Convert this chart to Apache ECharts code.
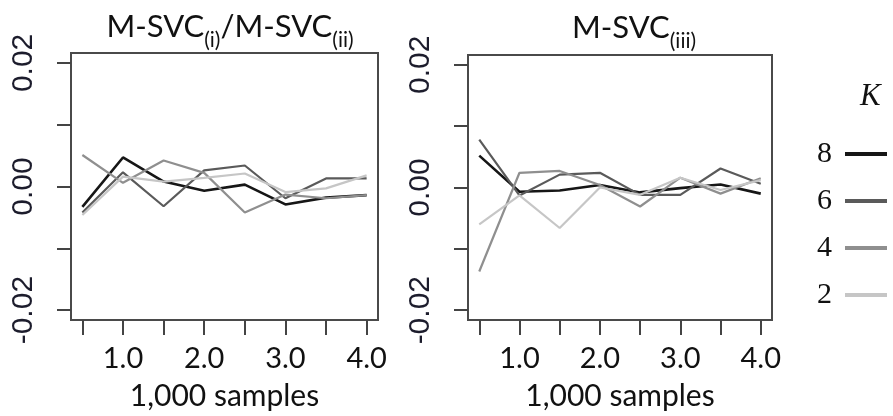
<!DOCTYPE html>
<html>
<head>
<meta charset="utf-8">
<script src="https://cdn.jsdelivr.net/npm/echarts@6/dist/echarts.min.js"></script>
<style>html,body{margin:0;padding:0;background:#fff}#c{width:893px;height:416px}</style>
</head>
<body>
<div id="c"></div>
<script>
// x positions (1,000 samples)
const xVals = [0.5, 1.0, 1.5, 2.0, 2.5, 3.0, 3.5, 4.0];
const xTicks = [0.5, 1.0, 1.5, 2.0, 2.5, 3.0, 3.5, 4.0];
const xLabels = [1.0, 2.0, 3.0, 4.0];
const yTicks = [-0.02, -0.01, 0, 0.01, 0.02];
const yLabels = [-0.02, 0, 0.02];
const kNames = ['8', '6', '4', '2'];

// Left panel: M-SVC(i)/M-SVC(ii)
const leftK8 = [-0.0033, 0.0047, 0.0008, -0.0007, 0.0003, -0.0029, -0.0018, -0.0014];
const leftK6 = [-0.0042, 0.0023, -0.0032, 0.0026, 0.0034, -0.0019, 0.0013, 0.0013];
const leftK4 = [0.0051, 0.0006, 0.0042, 0.0022, -0.0042, -0.0013, -0.0019, -0.0014];
const leftK2 = [-0.0046, 0.0016, 0.0008, 0.0014, 0.0021, -0.0009, -0.0003, 0.0018];

// Right panel: M-SVC(iii)
const rightK8 = [0.0052, -0.0007, -0.0005, 0.0004, -0.0008, -0.0001, 0.0005, -0.0010];
const rightK6 = [0.0078, -0.0013, 0.0021, 0.0024, -0.0012, -0.0012, 0.0031, 0.0006];
const rightK4 = [-0.0137, 0.0024, 0.0027, 0.0004, -0.0031, 0.0016, -0.0010, 0.0015];
const rightK2 = [-0.0060, -0.0013, -0.0066, 0.0000, -0.0012, 0.0016, -0.0004, 0.0012];

const colors = {'8': '#161616', '6': '#5a5a5a', '4': '#8f8f8f', '2': '#c6c6c6'};
const widths = {'8': 2.6, '6': 2.2, '4': 2.2, '2': 2.2};

const pair = arr => xVals.map((x, i) => [x, arr[i]]);
const font = 'Lato, "Open Sans", sans-serif';

function mkSeries(name, arr, idx) {
  return {
    name: name, type: 'line', xAxisIndex: idx, yAxisIndex: idx,
    data: pair(arr), symbol: 'none', animation: false,
    lineStyle: {color: colors[name], width: widths[name]},
    itemStyle: {color: colors[name]},
    z: 10 - Number(name) / 2
  };
}

function xAx(idx) {
  return {
    type: 'value', gridIndex: idx, min: 0.36, max: 4.14,
    splitLine: {show: false},
    axisLine: {show: false, onZero: false},
    axisTick: {show: true, inside: false, length: 15, customValues: xTicks,
      lineStyle: {color: '#444', width: 2}},
    axisLabel: {customValues: xLabels, formatter: v => v.toFixed(1),
      fontFamily: font, fontSize: 29, color: '#111', margin: 24},
    name: '1,000 samples', nameLocation: 'middle', nameGap: 61,
    nameTextStyle: {fontFamily: font, fontSize: 30, color: '#111'}
  };
}
function yAx(idx) {
  return {
    type: 'value', gridIndex: idx, min: -0.0216, max: 0.0216,
    splitLine: {show: false},
    axisLine: {show: false, onZero: false},
    axisTick: {show: true, inside: false, length: 14, customValues: yTicks,
      lineStyle: {color: '#444', width: 2}},
    axisLabel: {customValues: yLabels, formatter: v => v.toFixed(2), rotate: 90,
      fontFamily: '"Liberation Sans Narrow", "Liberation Sans", sans-serif',
      fontSize: 30, color: '#1c1c2c', margin: 32}
  };
}

const series = [];
[['2', leftK2], ['4', leftK4], ['6', leftK6], ['8', leftK8]].forEach(s => series.push(mkSeries(s[0], s[1], 0)));
[['2', rightK2], ['4', rightK4], ['6', rightK6], ['8', rightK8]].forEach(s => series.push(mkSeries(s[0], s[1], 1)));

const rich = {
  m: {fontFamily: font, fontSize: 31, fontWeight: 'normal', color: '#111', lineHeight: 36, verticalAlign: 'bottom'},
  s: {fontFamily: font, fontSize: 21, fontWeight: 'normal', color: '#111', lineHeight: 22, verticalAlign: 'bottom', padding: [0, 0, -9, 0]}
};

const chart = echarts.init(document.getElementById('c'), null, {renderer: 'canvas'});
chart.setOption({
  animation: false,
  backgroundColor: '#fff',
  title: [
    {text: '{m|M-SVC}{s|(i)}{m|/M-SVC}{s|(ii)}', left: 225, top: 1, textAlign: 'center',
      textStyle: {fontWeight: 'normal', rich: rich}},
    {text: '{m|M-SVC}{s|(iii)}', left: 629, top: 2, textAlign: 'center',
      textStyle: {fontWeight: 'normal', rich: rich}},
    {text: 'K', left: 855, top: 76,
      textStyle: {fontFamily: '"Liberation Serif", serif', fontStyle: 'italic', fontWeight: 'normal', fontSize: 31, color: '#111'}}
  ],
  grid: [
    {left: 71, right: 515, top: 53, bottom: 94, show: true, borderColor: '#4a4a4a', borderWidth: 2, backgroundColor: 'transparent'},
    {left: 468, right: 121, top: 55, bottom: 94, show: true, borderColor: '#4a4a4a', borderWidth: 2, backgroundColor: 'transparent'}
  ],
  xAxis: [xAx(0), xAx(1)],
  yAxis: [yAx(0), yAx(1)],
  legend: {
    data: kNames, orient: 'vertical', right: 1, top: 134, align: 'right',
    itemWidth: 42, itemHeight: 4, itemGap: 17, icon: 'rect',
    textStyle: {fontFamily: '"Liberation Serif", serif', fontSize: 30, color: '#111', padding: [0, 8, 0, 0]},
    selectedMode: false
  },
  series: series
});
</script>
</body>
</html>
